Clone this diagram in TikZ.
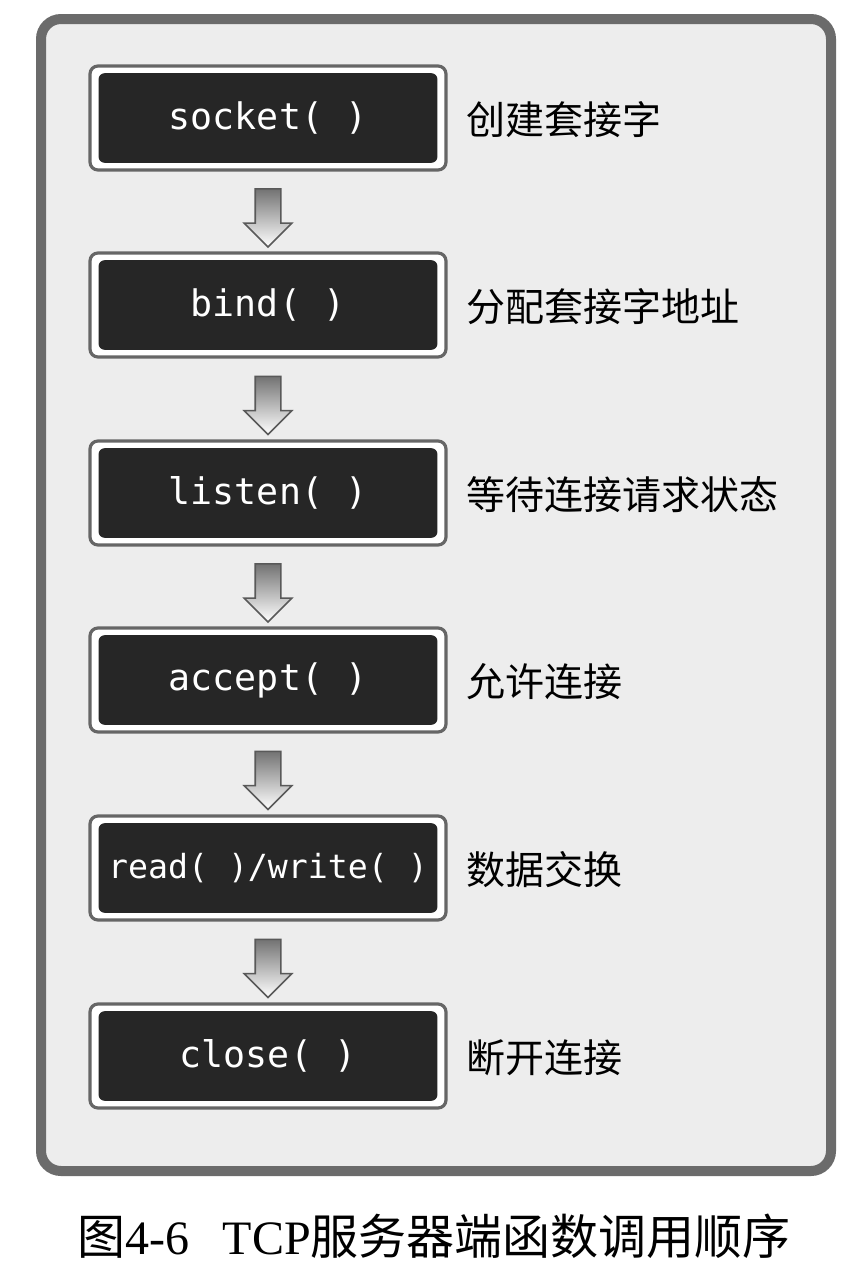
\documentclass[tikz,border=0pt]{standalone}
\usepackage{fontspec}
\setmainfont{Liberation Serif}
\newfontfamily\cjk{Noto Sans CJK SC}
\newfontfamily\monof{DejaVu Sans Mono}
\usetikzlibrary{shapes.arrows,calc}
\begin{document}
\begin{tikzpicture}[x=0.5pt,y=-0.5pt,
  fn/.style={draw=black!60, line width=1.6pt, fill=white, rounded corners=4pt,
    minimum width=178pt, minimum height=52pt, inner sep=0pt,
    path picture={\fill[black!85, rounded corners=3pt]
      ($(path picture bounding box.south west)+(4.3pt,3.6pt)$) rectangle
      ($(path picture bounding box.north east)+(-4.3pt,-3.6pt)$);},
    text=white, font=\monof\fontsize{18.3}{20}\selectfont},
  lbl/.style={anchor=west, inner sep=0pt, font=\cjk\fontsize{19.5}{22}\selectfont},
  blockarrow/.style={single arrow, shape border rotate=270, draw=black!65, line width=0.8pt,
    top color=black!55, bottom color=white, minimum height=29pt, minimum width=23pt,
    single arrow head extend=5.5pt, inner sep=6pt},
]
\useasboundingbox (0,0) rectangle (864,1286);
\fill[white] (0,0) rectangle (864,1286);
\draw[line width=5pt, draw=black!58, fill=black!7, rounded corners=10pt] (41,19) rectangle (831,1171);

\node[fn] (b1) at (268,118) {socket( )};
\node[fn] (b2) at (268,305) {bind( )};
\node[fn] (b3) at (268,493) {listen( )};
\node[fn] (b4) at (268,680) {accept( )};
\node[fn, font=\monof\fontsize{16.6}{20}\selectfont] (b5) at (268,868) {read( )/write( )};
\node[fn] (b6) at (268,1056) {close( )};

\node[lbl] (l1) at (466,120) {创建套接字};
\node[lbl] (l2) at (466,307) {分配套接字地址};
\node[lbl] (l3) at (466,495) {等待连接请求状态};
\node[lbl] (l4) at (466,682) {允许连接};
\node[lbl] (l5) at (466,870) {数据交换};
\node[lbl] (l6) at (466,1058) {断开连接};

\node[blockarrow] (a1) at ($(b1.south)!0.5!(b2.north)$) {};
\node[blockarrow] (a2) at ($(b2.south)!0.5!(b3.north)$) {};
\node[blockarrow] (a3) at ($(b3.south)!0.5!(b4.north)$) {};
\node[blockarrow] (a4) at ($(b4.south)!0.5!(b5.north)$) {};
\node[blockarrow] (a5) at ($(b5.south)!0.5!(b6.north)$) {};

\node[inner sep=0pt, font=\fontsize{24}{27}\selectfont] (cap) at (434,1236)
  {{\cjk 图}4-6\hspace{0.7em}TCP{\cjk 服务器端函数调用顺序}};
\end{tikzpicture}
\end{document}
